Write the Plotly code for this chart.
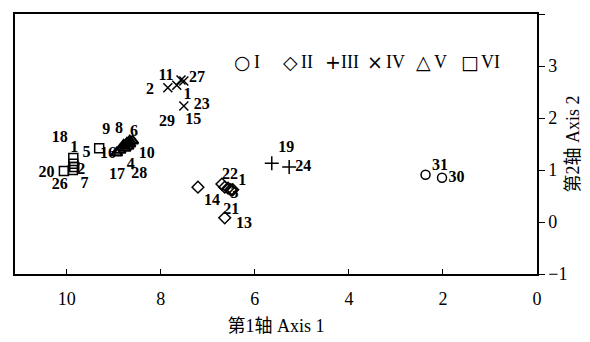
import plotly.graph_objects as go

# ---- data (Axis 1, Axis 2) ----
g1_x = [2.37, 2.02]
g1_y = [0.91, 0.85]
g2_x = [7.21, 6.70, 6.64, 6.57, 6.51, 6.47, 6.64]
g2_y = [0.67, 0.73, 0.67, 0.65, 0.62, 0.62, 0.08]
g3_x = [5.64, 5.27]
g3_y = [1.13, 1.06]
g4_x = [7.85, 7.66, 7.51, 7.57, 7.51]
g4_y = [2.58, 2.63, 2.71, 2.73, 2.23]
g5_x = [8.94, 8.87, 8.79, 8.72, 8.66, 8.60, 8.70, 8.76, 8.66]
g5_y = [1.33, 1.38, 1.48, 1.52, 1.56, 1.56, 1.46, 1.42, 1.50]
g6_x = [9.31, 9.86, 9.86, 9.87, 10.06, 9.84]
g6_y = [1.42, 1.23, 1.12, 1.00, 0.98, 1.06]

group_names = ["I", "II", "III", "IV", "V", "VI"]
legend_symbols = ["○", "◇", "+", "×", "△", "□"]

label_text = ["11", "27", "2", "1", "23", "29", "15",
              "9", "8", "6", "18", "1", "5", "16", "10", "4", "17", "28",
              "2", "20", "26", "7",
              "22", "1", "3", "14", "21", "13",
              "19", "24", "31", "30"]
label_x = [7.89, 7.23, 8.23, 7.43, 7.13, 7.87, 7.31,
           9.16, 8.89, 8.57, 10.15, 9.84, 9.58, 9.12, 8.30, 8.64, 8.93, 8.46,
           9.69, 10.43, 10.15, 9.62,
           6.53, 6.27, 6.43, 6.91, 6.50, 6.23,
           5.33, 4.97, 2.06, 1.71]
label_y = [2.81, 2.76, 2.53, 2.44, 2.25, 1.93, 1.97,
           1.76, 1.78, 1.74, 1.61, 1.42, 1.33, 1.31, 1.30, 1.10, 0.90, 0.92,
           1.00, 0.95, 0.71, 0.73,
           0.90, 0.79, 0.54, 0.41, 0.23, -0.03,
           1.42, 1.06, 1.08, 0.85]

x_ticks = [10, 8, 6, 4, 2, 0]
y_ticks = [4, 3, 2, 1, 0, -1]

SERIF = "Liberation Serif, Times New Roman, Noto Sans CJK SC, serif"
SYMF = "DejaVu Sans, sans-serif"

fig = go.Figure()
groups = [
    (g1_x, g1_y, "circle-open", 9),
    (g2_x, g2_y, "diamond-open", 9),
    (g3_x, g3_y, "cross-thin-open", 10),
    (g4_x, g4_y, "x-thin-open", 9),
    (g5_x, g5_y, "triangle-up-open", 10),
    (g6_x, g6_y, "square-open", 9),
]
for (gx, gy, sym, sz), name in zip(groups, group_names):
    fig.add_trace(go.Scatter(
        x=gx, y=gy, mode="markers", name=name, showlegend=False,
        marker=dict(symbol=sym, size=sz, color="black",
                    line=dict(color="black", width=1.5 if sym != "triangle-up-open" else 2.2)),
    ))

fig.add_trace(go.Scatter(
    x=label_x, y=label_y, mode="text", text=label_text,
    textfont=dict(family=SERIF, size=16, color="black"),
    texttemplate="<b>%{text}</b>",
    showlegend=False, hoverinfo="skip",
))

# page body has an 8px margin: the figure is placed at (8, 8) in the window
OFF = 8
plot_l, plot_w = 15, 522
leg_sym_px = [242, 290, 333, 375, 423, 470]
leg_txt_px = [252, 299, 339, 384, 432, 479]
annotations = []
for sym, name, sp, tp in zip(legend_symbols, group_names, leg_sym_px, leg_txt_px):
    annotations.append(dict(xref="paper", yref="paper", x=(sp - plot_l) / plot_w, y=0.815,
                            text=sym, showarrow=False, xanchor="center", yanchor="middle",
                            font=dict(family=SYMF, size=19, color="black")))
    annotations.append(dict(xref="paper", yref="paper", x=(tp - plot_l) / plot_w, y=0.815,
                            text=name, showarrow=False, xanchor="left", yanchor="middle",
                            font=dict(family=SERIF, size=18, color="black")))

fig.update_layout(
    width=590 - OFF, height=342 - OFF,
    margin=dict(l=15 - OFF, r=53, t=14 - OFF, b=68),
    paper_bgcolor="white", plot_bgcolor="white",
    font=dict(family=SERIF, size=18, color="black"),
    showlegend=False,
    annotations=annotations,
    xaxis=dict(range=[11.1, 0], tickvals=x_ticks, ticktext=[str(v) for v in x_ticks],
               ticks="inside", ticklen=5, tickcolor="black", automargin=False,
               showline=True, linecolor="black", linewidth=1.5, mirror=True,
               showgrid=False, zeroline=False,
               title=dict(text="第1轴 Axis 1", font=dict(family=SERIF, size=18), standoff=11),
               ticklabelstandoff=8),
    yaxis=dict(range=[-1, 4], side="right", tickvals=y_ticks,
               ticktext=["\u2212" + str(-v) if v < 0 else str(v) for v in y_ticks],
               ticks="outside", ticklen=6, tickcolor="black", automargin=False,
               showline=True, linecolor="black", linewidth=1.5, mirror=True,
               showgrid=False, zeroline=False,
               title=dict(text="第2轴 Axis 2", font=dict(family=SERIF, size=18), standoff=0)),
)

fig.write_html("out.html")
